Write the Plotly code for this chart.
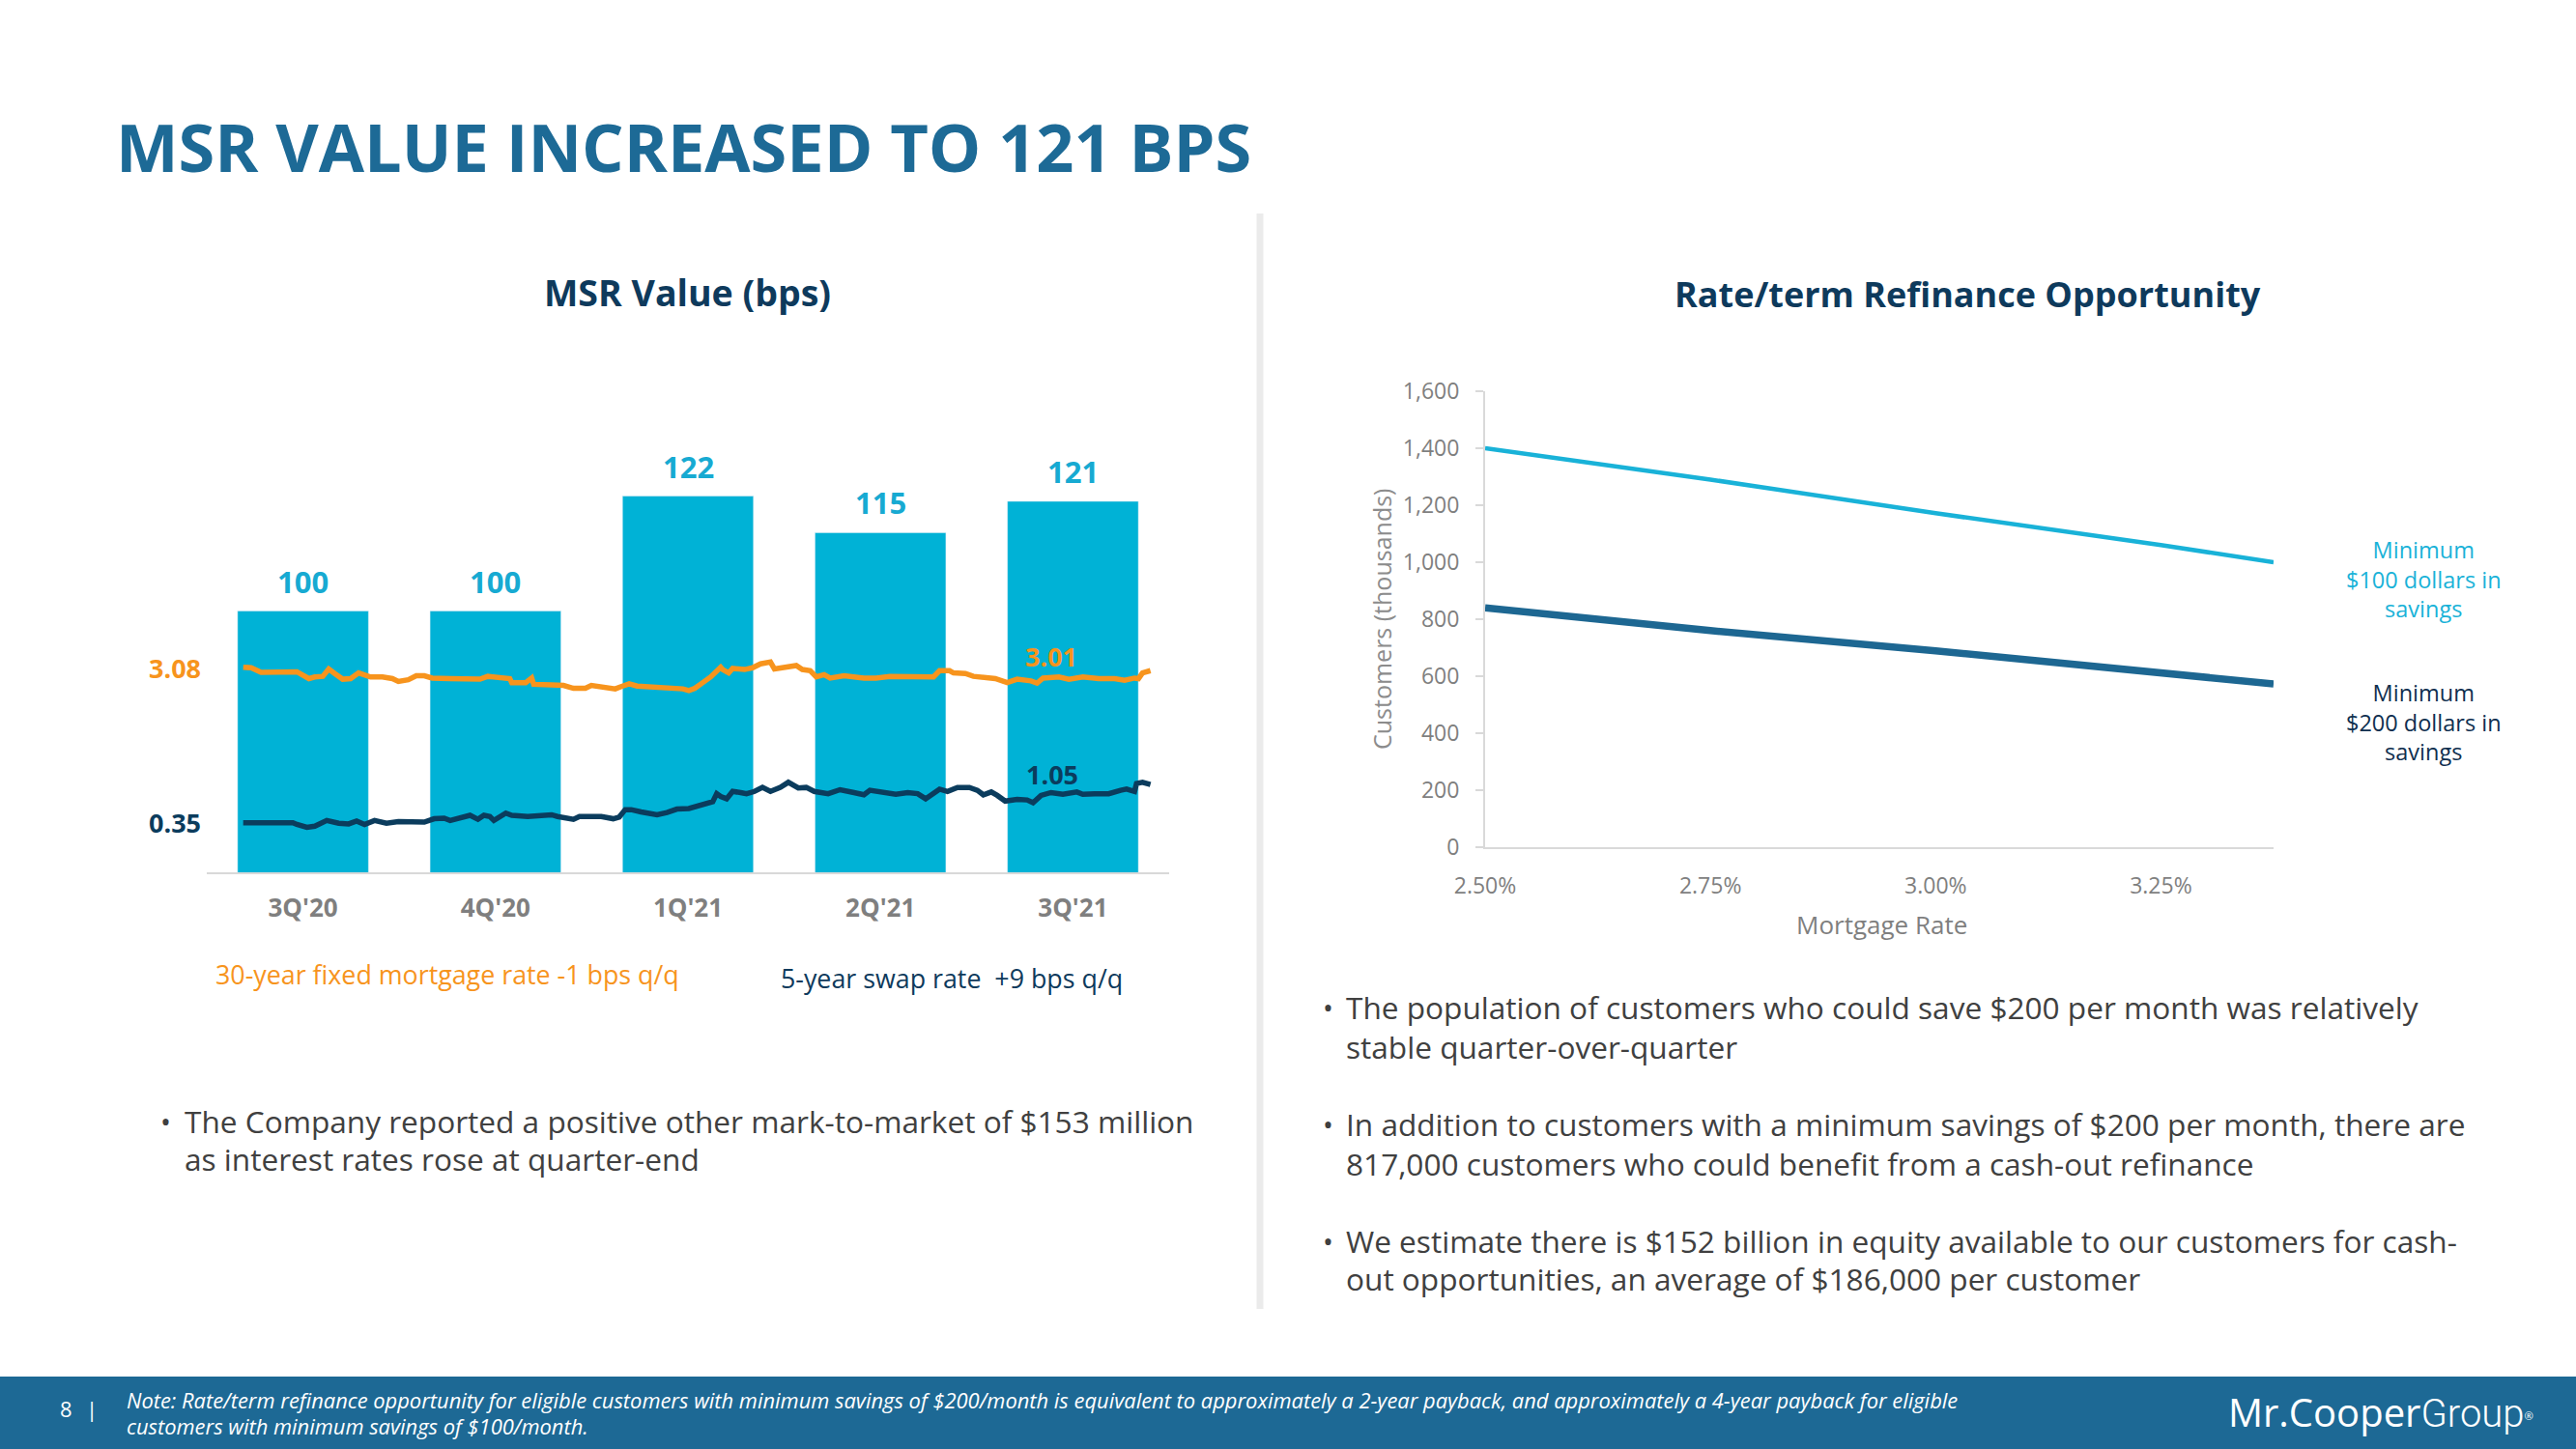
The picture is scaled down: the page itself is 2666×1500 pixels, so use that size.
import plotly.graph_objects as go
import pandas as pd

W, H = 2666, 1500

# ---------------- data ----------------
quarters = ["3Q'20", "4Q'20", "1Q'21", "2Q'21", "3Q'21"]
msr_bps = [100, 100, 122, 115, 121]

# days since 2020-07-01
mortgage_days = [0, 4, 9, 14, 19, 27, 33, 36, 40, 43,
                 46, 50, 54, 58, 64, 70, 75, 78, 83, 87,
                 91, 95, 104, 114, 119, 123, 129, 134, 135, 142,
                 145, 146, 155, 161, 166, 172, 175, 180, 187, 190,
                 194, 198, 205, 214, 221, 224, 227, 231, 235, 240,
                 241, 244, 246, 252, 256, 260, 265, 267, 273, 278,
                 281, 285, 288, 292, 295, 302, 312, 318, 325, 338,
                 347, 350, 355, 357, 363, 367, 373, 378, 384, 389,
                 396, 399, 402, 410, 415, 422, 430, 438, 443, 448,
                 450, 452, 456]
mortgage_rate = [3.08, 3.07, 2.99, 2.99, 3.00, 3.00, 2.88, 2.91, 2.92, 3.05,
                 2.97, 2.87, 2.88, 2.98, 2.91, 2.91, 2.88, 2.83, 2.86, 2.93,
                 2.93, 2.89, 2.88, 2.88, 2.87, 2.92, 2.91, 2.88, 2.81, 2.81,
                 2.89, 2.78, 2.77, 2.76, 2.71, 2.71, 2.76, 2.74, 2.70, 2.74,
                 2.79, 2.75, 2.74, 2.72, 2.70, 2.67, 2.71, 2.81, 2.91, 3.08,
                 3.04, 2.98, 3.06, 3.04, 3.07, 3.14, 3.17, 3.05, 3.09, 3.11,
                 3.04, 3.02, 2.91, 2.95, 2.89, 2.93, 2.89, 2.89, 2.92, 2.92,
                 2.91, 3.02, 3.02, 2.98, 2.97, 2.92, 2.91, 2.88, 2.81, 2.87,
                 2.84, 2.80, 2.89, 2.91, 2.87, 2.91, 2.88, 2.88, 2.85, 2.89,
                 2.88, 2.98, 3.02]

swap_days = [0, 7, 15, 25, 27, 32, 36, 42, 48, 53,
             57, 61, 66, 72, 78, 85, 91, 96, 101, 104,
             111, 114, 118, 121, 124, 126, 132, 135, 143, 150,
             155, 158, 163, 166, 169, 180, 186, 189, 192, 195,
             200, 208, 213, 218, 224, 227, 231, 236, 238, 240,
             243, 246, 250, 253, 257, 261, 265, 270, 274, 279,
             283, 287, 294, 300, 307, 312, 315, 321, 328, 334,
             339, 343, 348, 350, 354, 359, 365, 369, 372, 376,
             379, 383, 389, 394, 397, 401, 406, 412, 419, 422,
             428, 435, 441, 444, 448, 449, 452, 456]
swap_rate = [0.35, 0.35, 0.34, 0.35, 0.32, 0.27, 0.29, 0.39, 0.34, 0.33,
             0.38, 0.32, 0.39, 0.34, 0.37, 0.36, 0.36, 0.42, 0.43, 0.39,
             0.45, 0.48, 0.41, 0.48, 0.46, 0.39, 0.52, 0.48, 0.46, 0.48,
             0.49, 0.46, 0.43, 0.41, 0.46, 0.46, 0.42, 0.45, 0.58, 0.58,
             0.54, 0.49, 0.53, 0.59, 0.60, 0.63, 0.68, 0.72, 0.86, 0.81,
             0.77, 0.90, 0.88, 0.86, 0.90, 0.97, 0.90, 0.97, 1.06, 0.96,
             0.97, 0.90, 0.86, 0.93, 0.88, 0.84, 0.92, 0.89, 0.85, 0.88,
             0.86, 0.77, 0.89, 0.94, 0.90, 0.97, 0.97, 0.92, 0.84, 0.89,
             0.83, 0.73, 0.76, 0.75, 0.70, 0.83, 0.88, 0.85, 0.89, 0.85,
             0.86, 0.86, 0.92, 0.94, 0.90, 1.04, 1.06, 1.02]

mortgage_rate_levels = [0.025, 0.0275, 0.03, 0.0325, 0.03375]
customers_min100 = [1400, 1290, 1172, 1060, 1000]
customers_min200 = [840, 760, 689, 615, 573]

left_bullets = ["The Company reported a positive other mark-to-market of $153 million",
                "as interest rates rose at quarter-end"]
right_bullets = [["The population of customers who could save $200 per month was relatively",
                  "stable quarter-over-quarter"],
                 ["In addition to customers with a minimum savings of $200 per month, there are",
                  "817,000 customers who could benefit from a cash-out refinance"],
                 ["We estimate there is $152 billion in equity available to our customers for cash-",
                  "out opportunities, an average of $186,000 per customer"]]

# ---------------- styling ----------------
FONT = "Open Sans"
TITLE_BLUE = "#1D6A96"
NAVY = "#0E3A5C"
BAR = "#00B2D6"
BAR_LABEL = "#17AAD2"
ORANGE = "#F7941D"
SWAP = "#0B3C5D"
LIGHT_LINE = "#19B2D8"
DARK_LINE = "#1D6792"
GRAY = "#7F7F7F"
TEXT = "#404040"
AXIS = "#D9D9D9"
FOOTER = "#1D6995"

base = pd.Timestamp("2020-07-01")
mort_dates = [base + pd.Timedelta(days=d) for d in mortgage_days]
swap_dates = [base + pd.Timedelta(days=d) for d in swap_days]


def px(x):
    return x / W


def py(y):
    return 1 - y / H


fig = go.Figure()

fig.add_trace(go.Bar(x=quarters, y=msr_bps, marker_color=BAR, width=0.68,
                     xaxis="x", yaxis="y", showlegend=False, hoverinfo="skip"))
fig.add_trace(go.Scatter(x=mort_dates, y=mortgage_rate, mode="lines",
                         line=dict(color=ORANGE, width=5.5),
                         xaxis="x2", yaxis="y2", showlegend=False))
fig.add_trace(go.Scatter(x=swap_dates, y=swap_rate, mode="lines",
                         line=dict(color=SWAP, width=5.5),
                         xaxis="x2", yaxis="y2", showlegend=False))

fig.add_trace(go.Scatter(x=mortgage_rate_levels, y=customers_min100, mode="lines",
                         line=dict(color=LIGHT_LINE, width=4.5),
                         xaxis="x3", yaxis="y3", showlegend=False))
fig.add_trace(go.Scatter(x=mortgage_rate_levels, y=customers_min200, mode="lines",
                         line=dict(color=DARK_LINE, width=7.5),
                         xaxis="x3", yaxis="y3", showlegend=False))

left_dom = [px(214), px(1210)]
left_ydom = [py(903), py(440)]

fig.update_layout(
    width=W, height=H,
    margin=dict(l=0, r=0, t=0, b=0, pad=0, autoexpand=False),
    showlegend=False,
    paper_bgcolor="white", plot_bgcolor="rgba(0,0,0,0)",
    font=dict(family=FONT, color=TEXT),
    xaxis=dict(domain=left_dom, anchor="y", type="category", range=[-0.5, 4.5],
               automargin=False,
               showline=True, linecolor=AXIS, linewidth=2, showgrid=False,
               ticks="outside", ticklen=13, tickcolor="rgba(0,0,0,0)",
               tickfont=dict(size=26, color=GRAY, family=FONT, weight="bold")),
    yaxis=dict(domain=left_ydom, anchor="x", range=[50, 50 + 463 / 5.409],
               automargin=False, visible=False, showgrid=False),
    xaxis2=dict(domain=left_dom, anchor="y2", overlaying="x", type="date",
                range=[base + pd.Timedelta(days=-18.3), base + pd.Timedelta(days=465.4)],
                automargin=False, visible=False, showgrid=False),
    yaxis2=dict(domain=left_ydom, anchor="x2", overlaying="y",
                range=[0.35 - 51.3 / 58.97, 0.35 + 411.7 / 58.97],
                automargin=False, visible=False, showgrid=False),
    xaxis3=dict(domain=[px(1537), px(2353)], anchor="y3", range=[0.025, 0.03375],
                tickformat=".2%", dtick=0.0025, tick0=0.025, automargin=False,
                showline=True, linecolor=AXIS, linewidth=2, showgrid=False, zeroline=False,
                ticks="outside", ticklen=18, tickcolor="rgba(0,0,0,0)",
                tickfont=dict(size=23, color=GRAY, family=FONT)),
    yaxis3=dict(domain=[py(877), py(405)], anchor="x3", range=[0, 1600], dtick=200,
                tickformat=",", showline=True, linecolor=AXIS, linewidth=2,
                showgrid=False, zeroline=False, automargin=False,
                ticks="outside", ticklen=8, tickcolor=AXIS, tickwidth=2,
                ticklabelstandoff=12,
                tickfont=dict(size=23, color=GRAY, family=FONT)),
)

ann = []


def text(x, y, s, size, color, xanchor="left", weight="normal", style="normal", **kw):
    ann.append(dict(x=px(x), y=py(y), xref="paper", yref="paper", text=s,
                    showarrow=False, xanchor=xanchor, yanchor="middle",
                    font=dict(size=size, color=color, family=FONT, weight=weight, style=style),
                    **kw))


# title and subtitles
text(118, 151, "MSR VALUE INCREASED TO 121 BPS", 68.5, TITLE_BLUE, weight="bold")
text(711, 303, "MSR Value (bps)", 37.5, NAVY, xanchor="center", weight="bold")
text(2037, 304, "Rate/term Refinance Opportunity", 36, NAVY, xanchor="center", weight="bold")

# bar value labels
for q, v in zip(quarters, msr_bps):
    ann.append(dict(x=q, y=v, xref="x", yref="y", text=f"<b>{v}</b>", showarrow=False,
                    yanchor="middle", yshift=31,
                    font=dict(size=31, color=BAR_LABEL, family=FONT)))

# rate labels at start / end of lines
ann.append(dict(x=mort_dates[0], y=mortgage_rate[0], xref="x2", yref="y2",
                text=f"<b>{mortgage_rate[0]:.2f}</b>", showarrow=False,
                xanchor="right", yanchor="middle", xshift=-42, yshift=-1,
                font=dict(size=27, color=ORANGE, family=FONT)))
ann.append(dict(x=swap_dates[0], y=swap_rate[0], xref="x2", yref="y2",
                text=f"<b>{swap_rate[0]:.2f}</b>", showarrow=False,
                xanchor="right", yanchor="middle", xshift=-42, yshift=0,
                font=dict(size=27, color=SWAP, family=FONT)))
ann.append(dict(x=mort_dates[-1], y=mortgage_rate[-1], xref="x2", yref="y2",
                text="<b>3.01</b>", showarrow=False,
                xanchor="center", yanchor="middle", xshift=-103, yshift=15,
                font=dict(size=27, color=ORANGE, family=FONT)))
ann.append(dict(x=swap_dates[-1], y=swap_rate[-1], xref="x2", yref="y2",
                text="<b>1.05</b>", showarrow=False,
                xanchor="center", yanchor="middle", xshift=-102, yshift=11,
                font=dict(size=27, color=SWAP, family=FONT)))

# left legend notes
text(221, 1008, "30-year fixed mortgage rate -1 bps q/q", 26.8, ORANGE)
text(806, 1012, "5-year swap rate \u00a0+9 bps q/q", 26.8, NAVY)

# left bullet
text(164, 1160, "\u2022", 29, TEXT)
text(189, 1160, left_bullets[0], 31.6, TEXT)
text(189, 1199, left_bullets[1], 31.6, TEXT)

# right bullets
ys = [(1042, 1083), (1163, 1204), (1284, 1323)]
for (y1, y2), lines in zip(ys, right_bullets):
    text(1367, y1, "\u2022", 29, TEXT)
    text(1391, y1, lines[0], 31.6, TEXT)
    text(1391, y2, lines[1], 31.6, TEXT)

# right chart axis titles
ann.append(dict(x=px(1430), y=py(641), xref="paper", yref="paper",
                text="Customers (thousands)", showarrow=False, textangle=-90,
                xanchor="center", yanchor="middle",
                font=dict(size=25, color="#8C8C8C", family=FONT)))
text(1947, 957, "Mortgage Rate", 26, GRAY, xanchor="center")

# series labels
text(2508, 599, "Minimum<br>$100 dollars in<br>savings", 23.5, LIGHT_LINE, xanchor="center")
text(2508, 748, "Minimum<br>$200 dollars in<br>savings", 23.5, "#0F2F4F", xanchor="center")

# footer
text(68, 1458, "8", 22, "white", xanchor="center")
text(95, 1458, "|", 22, "white", xanchor="center")
text(129, 1449, "Note: Rate/term refinance opportunity for eligible customers with minimum savings of $200/month is equivalent to approximately a 2-year payback, and approximately a 4-year payback for eligible",
     21.9, "white", style="italic")
text(129, 1476, "customers with minimum savings of $100/month.", 21.9, "white", style="italic")
text(2464, 1461,
     "Mr.Cooper<span style='font-family:Roboto;font-weight:300'>Group</span>"
     "<span style='font-size:16px'><sup>\u00ae</sup></span>", 40, "white",
     xanchor="center")

fig.update_layout(annotations=ann)

fig.update_layout(shapes=[
    dict(type="rect", xref="paper", yref="paper", x0=0, x1=1, y0=0, y1=py(1425),
         fillcolor=FOOTER, line=dict(width=0), layer="below"),
    dict(type="line", xref="paper", yref="paper", x0=px(1304), x1=px(1304),
         y0=py(221), y1=py(1355), line=dict(color="#EBEBEB", width=7)),
])

fig.write_html("out.html",
               config={"displayModeBar": False},
               post_script="document.body.style.margin='0px';"
                           "document.body.style.overflow='hidden';")
